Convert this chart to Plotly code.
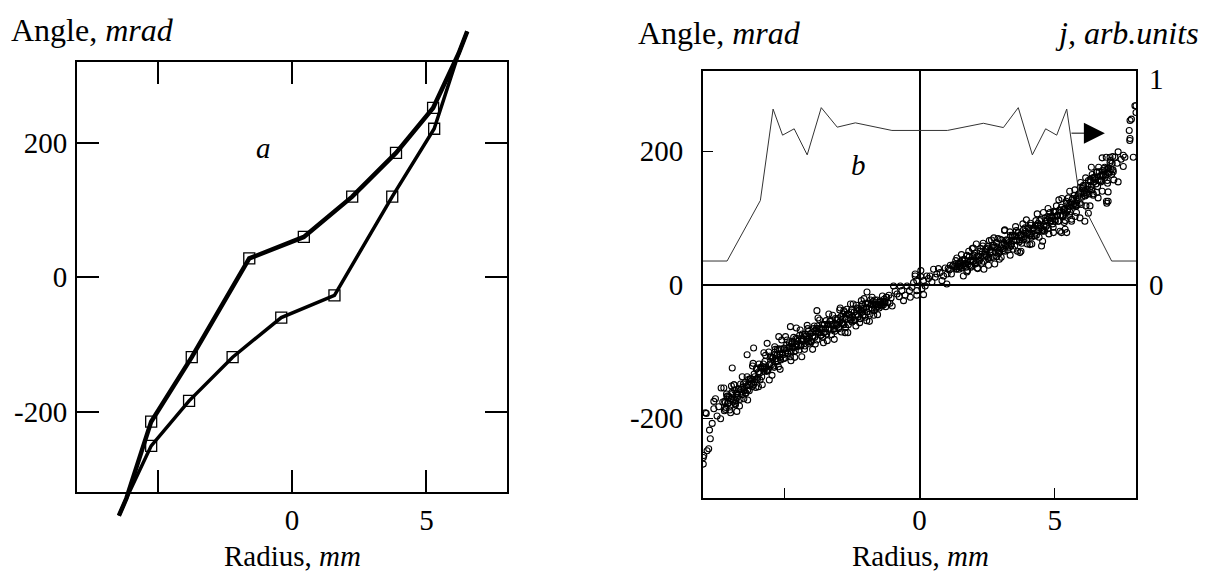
import plotly.graph_objects as go

W, H = 1206, 579

# ---------------- Panel a data ----------------
a_upper_x = [-6.44, -6.16, -5.24, -3.73, -1.59, 0.44, 2.24, 3.87, 5.25, 6.20, 6.52]
a_upper_y = [-355, -329, -215, -119, 28, 60, 120, 185, 252, 333, 366]
a_lower_x = [-6.44, -6.16, -5.24, -3.83, -2.21, -0.40, 1.58, 3.73, 5.29, 6.20, 6.52]
a_lower_y = [-355, -329, -251, -184, -119, -60, -27, 120, 221, 333, 366]

# ---------------- Panel b data ----------------
j_x = [-8.0, -7.11, -5.88, -5.41, -5.06, -4.63, -4.15, -3.63, -3.04, -2.37, -1.02,
       1.03, 2.36, 3.10, 3.65, 4.17, 4.66, 5.07, 5.44, 5.92, 7.10, 8.0]
j_y = [0.115, 0.115, 0.41, 0.855, 0.728, 0.759, 0.632, 0.862, 0.767, 0.788, 0.751,
       0.751, 0.786, 0.765, 0.862, 0.632, 0.759, 0.728, 0.855, 0.42, 0.115, 0.115]

band_left_x = [
    -7.20, -7.17, -7.13, -7.09, -7.05, -7.01, -6.97, -6.93, -6.89, -6.85,
    -6.81, -6.77, -6.73, -6.69, -6.65, -6.61, -6.57, -6.53, -6.49, -6.45,
    -6.41, -6.37, -6.33, -6.29, -6.25, -6.21, -6.17, -6.13, -6.09, -6.05,
    -6.01, -5.97, -5.93, -5.89, -5.85, -5.81, -5.77, -5.73, -5.69, -5.65,
    -5.61, -5.57, -5.53, -5.49, -5.45, -5.41, -5.37, -5.33, -5.29, -5.25,
    -5.21, -5.17, -5.13, -5.09, -5.05, -5.01, -4.97, -4.93, -4.89, -4.85,
    -4.81, -4.77, -4.73, -4.69, -4.65, -4.61, -4.57, -4.53, -4.49, -4.45,
    -4.41, -4.37, -4.33, -4.29, -4.25, -4.21, -4.17, -4.13, -4.09, -4.05,
    -4.01, -3.97, -3.93, -3.89, -3.85, -3.81, -3.77, -3.73, -3.69, -3.65,
    -3.61, -3.57, -3.53, -3.49, -3.45, -3.41, -3.37, -3.33, -3.29, -3.25,
    -3.21, -3.17, -3.13, -3.09, -3.05, -3.01, -2.97, -2.93, -2.89, -2.85,
    -2.81, -2.77, -2.73, -2.69, -2.65, -2.61, -2.57, -2.53, -2.49, -2.45,
    -2.41, -2.37, -2.33, -2.29, -2.25, -2.21, -2.17, -2.13, -2.09, -2.05,
    -2.01, -1.97, -1.93, -1.89, -1.85, -1.81, -1.77, -1.73, -1.69, -1.65,
    -1.61, -1.57, -1.53, -1.49, -1.45, -1.41, -1.37, -1.33, -1.29, -1.25,
    -1.21, -1.17, -1.13, -1.09, -1.05, -1.01]
band_left_y = [
    -175, -187, -164, -178, -167, -188, -171, -161, -176, -150,
    -178, -163, -169, -156, -182, -149, -161, -154, -171, -147,
    -162, -138, -151, -159, -141, -148, -122, -150, -138, -154,
    -125, -139, -119, -143, -125, -150, -119, -126, -106, -130,
    -129, -101, -119, -109, -136, -109, -124, -97, -114, -97,
    -123, -104, -113, -83, -105, -95, -110, -99, -83, -104,
    -87, -108, -89, -94, -79, -109, -81, -93, -85, -98,
    -68, -91, -74, -82, -97, -74, -82, -66, -88, -74,
    -86, -72, -78, -62, -89, -66, -62, -71, -53, -76,
    -66, -79, -60, -71, -54, -84, -59, -65, -54, -75,
    -46, -67, -70, -59, -61, -51, -64, -35, -71, -52,
    -58, -41, -64, -37, -72, -45, -50, -41, -56, -29,
    -41, -53, -31, -45, -36, -57, -40, -30, -46, -21,
    -49, -34, -41, -28, -55, -23, -35, -29, -46, -23,
    -35, -23, -30, -35, -26, -30, -17, -30, -25, -33,
    -19, -27, -16, -28, -20, -32]

core_left_x = [
    -7.18, -7.15, -7.11, -7.07, -7.03, -6.99, -6.95, -6.91, -6.87, -6.83,
    -6.79, -6.75, -6.71, -6.67, -6.63, -6.59, -6.55, -6.51, -6.47, -6.43,
    -6.39, -6.35, -6.31, -6.27, -6.23, -6.19, -6.15, -6.11, -6.07, -6.03,
    -5.99, -5.95, -5.91, -5.87, -5.83, -5.79, -5.75, -5.71, -5.67, -5.63,
    -5.59, -5.55, -5.51, -5.47, -5.43, -5.39, -5.35, -5.31, -5.27, -5.23,
    -5.19, -5.15, -5.11, -5.07, -5.03, -4.99, -4.95, -4.91, -4.87, -4.83,
    -4.79, -4.75, -4.71, -4.67, -4.63, -4.59, -4.55, -4.51, -4.47, -4.43,
    -4.39, -4.35, -4.31, -4.27, -4.23, -4.19, -4.15, -4.11, -4.07, -4.03,
    -3.99, -3.95, -3.91, -3.87, -3.83, -3.79, -3.75, -3.71, -3.67, -3.63,
    -3.59, -3.55, -3.51, -3.47, -3.43, -3.39, -3.35, -3.31, -3.27, -3.23,
    -3.19, -3.15, -3.11, -3.07, -3.03, -2.99, -2.95, -2.91, -2.87, -2.83,
    -2.79, -2.75, -2.71, -2.67, -2.63, -2.59, -2.55, -2.51, -2.47, -2.43,
    -2.39, -2.35, -2.31, -2.27, -2.23, -2.19, -2.15, -2.11, -2.07, -2.03,
    -1.99, -1.95, -1.91, -1.87, -1.83, -1.79, -1.75, -1.71, -1.67, -1.63,
    -1.59, -1.55, -1.51, -1.47, -1.43, -1.39, -1.35, -1.31, -1.27, -1.23]
core_left_y = [
    -177, -184, -168, -178, -169, -182, -171, -163, -173, -158,
    -174, -163, -166, -157, -172, -157, -165, -149, -159, -163,
    -152, -158, -142, -151, -141, -153, -142, -134, -143, -127,
    -142, -131, -133, -124, -138, -123, -130, -115, -124, -129,
    -127, -120, -107, -120, -110, -122, -105, -111, -106, -115,
    -96, -109, -97, -103, -111, -96, -102, -90, -103, -94,
    -93, -100, -85, -95, -86, -99, -89, -81, -91, -76,
    -92, -81, -85, -77, -92, -77, -85, -70, -80, -85,
    -85, -78, -66, -79, -69, -83, -66, -72, -67, -76,
    -59, -72, -60, -66, -74, -60, -67, -55, -68, -60,
    -59, -66, -51, -61, -53, -66, -56, -48, -58, -44,
    -60, -49, -52, -44, -60, -45, -53, -38, -48, -54,
    -53, -46, -35, -48, -38, -51, -35, -41, -36, -46,
    -28, -41, -29, -36, -44, -30, -37, -25, -39, -30,
    -30, -33, -26, -31, -25, -32, -27, -22, -27, -19]

edge_left_x = [-6.95, -6.75, -6.55, -6.35, -6.15, -5.95, -5.75, -5.55, -5.35, -5.15,
               -4.95, -4.75, -4.55, -4.35, -4.15, -3.95, -3.75, -3.55, -3.35, -3.15,
               -2.95, -2.75, -2.55, -2.35, -2.15, -1.95, -1.75, -1.55]
edge_left_y = [-152, -190, -138, -173, -118, -153, -102, -143, -93, -127,
               -78, -114, -65, -108, -61, -97, -50, -87, -44, -82,
               -38, -72, -29, -62, -24, -54, -19, -45]

band_right_x = [
    1.02, 1.06, 1.10, 1.14, 1.18, 1.22, 1.26, 1.30, 1.34,
    1.38, 1.42, 1.46, 1.50, 1.54, 1.58, 1.62, 1.66, 1.70, 1.74,
    1.78, 1.82, 1.86, 1.90, 1.94, 1.98, 2.02, 2.06, 2.10, 2.14,
    2.18, 2.22, 2.26, 2.30, 2.34, 2.38, 2.42, 2.46, 2.50, 2.54,
    2.58, 2.62, 2.66, 2.70, 2.74, 2.78, 2.82, 2.86, 2.90, 2.94,
    2.98, 3.02, 3.06, 3.10, 3.14, 3.18, 3.22, 3.26, 3.30, 3.34,
    3.38, 3.42, 3.46, 3.50, 3.54, 3.58, 3.62, 3.66, 3.70, 3.74,
    3.78, 3.82, 3.86, 3.90, 3.94, 3.98, 4.02, 4.06, 4.10, 4.14,
    4.18, 4.22, 4.26, 4.30, 4.34, 4.38, 4.42, 4.46, 4.50, 4.54,
    4.58, 4.62, 4.66, 4.70, 4.74, 4.78, 4.82, 4.86, 4.90, 4.94,
    4.98, 5.02, 5.06, 5.10, 5.14, 5.18, 5.22, 5.26, 5.30, 5.34,
    5.38, 5.42, 5.46, 5.50, 5.54, 5.58, 5.62, 5.66, 5.70, 5.74,
    5.78, 5.82, 5.86, 5.90, 5.94, 5.98, 6.02, 6.06, 6.10, 6.14,
    6.18, 6.22, 6.26, 6.30, 6.34, 6.38, 6.42, 6.46, 6.50, 6.54,
    6.58, 6.62, 6.66, 6.70, 6.74, 6.78, 6.82, 6.86, 6.90, 6.94,
    6.98, 7.02, 7.06, 7.10, 7.14, 7.18]
band_right_y = [
    16, 24, 22, 29, 16, 28, 30, 27, 36,
    24, 30, 23, 34, 28, 37, 13, 38, 32, 43,
    21, 50, 29, 26, 37, 35, 44, 31, 61, 25,
    43, 37, 54, 32, 58, 23, 49, 44, 54, 39,
    66, 40, 67, 49, 59, 31, 57, 42, 69, 51,
    68, 41, 60, 51, 81, 58, 67, 52, 63, 79,
    58, 74, 53, 72, 67, 81, 50, 78, 67, 75,
    62, 91, 68, 85, 77, 61, 84, 76, 92, 71,
    84, 85, 73, 96, 82, 92, 71, 88, 98, 83,
    108, 80, 95, 89, 102, 76, 108, 96, 103, 86,
    109, 95, 118, 104, 95, 112, 104, 129, 102, 113,
    96, 125, 110, 130, 105, 123, 98, 129, 121, 142,
    117, 119, 133, 129, 146, 120, 144, 149, 141, 160,
    138, 149, 136, 157, 147, 165, 136, 161, 157, 168,
    147, 176, 156, 154, 165, 164, 174, 161, 191, 156,
    175, 169, 186, 165, 192, 157]

core_right_x = [
    1.36, 1.40, 1.44, 1.48, 1.52, 1.56, 1.60, 1.64, 1.68, 1.72,
    1.76, 1.80, 1.84, 1.88, 1.92, 1.96, 2.00, 2.04, 2.08, 2.12,
    2.16, 2.20, 2.24, 2.28, 2.32, 2.36, 2.40, 2.44, 2.48, 2.52,
    2.56, 2.60, 2.64, 2.68, 2.72, 2.76, 2.80, 2.84, 2.88, 2.92,
    2.96, 3.00, 3.04, 3.08, 3.12, 3.16, 3.20, 3.24, 3.28, 3.32,
    3.36, 3.40, 3.44, 3.48, 3.52, 3.56, 3.60, 3.64, 3.68, 3.72,
    3.76, 3.80, 3.84, 3.88, 3.92, 3.96, 4.00, 4.04, 4.08, 4.12,
    4.16, 4.20, 4.24, 4.28, 4.32, 4.36, 4.40, 4.44, 4.48, 4.52,
    4.56, 4.60, 4.64, 4.68, 4.72, 4.76, 4.80, 4.84, 4.88, 4.92,
    4.96, 5.00, 5.04, 5.08, 5.12, 5.16, 5.20, 5.24, 5.28, 5.32,
    5.36, 5.40, 5.44, 5.48, 5.52, 5.56, 5.60, 5.64, 5.68, 5.72,
    5.76, 5.80, 5.84, 5.88, 5.92, 5.96, 6.00, 6.04, 6.08, 6.12,
    6.16, 6.20, 6.24, 6.28, 6.32, 6.36, 6.40, 6.44, 6.48, 6.52,
    6.56, 6.60, 6.64, 6.68, 6.72, 6.76, 6.80, 6.84, 6.88, 6.92,
    6.96, 7.00, 7.04, 7.08, 7.12, 7.16]
core_right_y = [
    23, 27, 32, 27, 32, 25, 37, 31, 36, 26,
    44, 31, 42, 36, 28, 42, 35, 47, 33, 42,
    43, 35, 50, 40, 49, 35, 45, 53, 42, 57,
    41, 52, 49, 56, 41, 56, 48, 63, 53, 47,
    48, 55, 67, 54, 63, 50, 67, 61, 66, 56,
    74, 61, 73, 66, 58, 73, 66, 78, 64, 73,
    74, 67, 82, 72, 80, 67, 77, 85, 74, 89,
    73, 84, 81, 89, 74, 89, 81, 96, 85, 80,
    81, 88, 100, 87, 97, 84, 101, 95, 100, 91,
    110, 97, 109, 103, 95, 111, 104, 116, 103, 112,
    114, 107, 122, 112, 122, 109, 120, 128, 118, 134,
    119, 130, 127, 136, 122, 138, 131, 147, 137, 133,
    135, 143, 156, 143, 154, 142, 160, 154, 160, 151,
    169, 157, 169, 163, 156, 171, 164, 176, 164, 173,
    174, 167, 183, 173, 182, 169]

edge_right_x = [1.55, 1.75, 1.95, 2.15, 2.35, 2.55, 2.75, 2.95, 3.15, 3.35,
                3.55, 3.75, 3.95, 4.15, 4.35, 4.55, 4.75, 4.95, 5.15, 5.35,
                5.55, 5.75, 5.95, 6.15, 6.35, 6.55, 6.75, 6.95]
edge_right_y = [45, 19, 54, 24, 62, 29, 70, 38, 82, 44,
                87, 50, 97, 61, 106, 65, 114, 78, 127, 93,
                140, 102, 153, 118, 176, 138, 190, 152]

center_x = [-0.16, 0.05, 0.15, -0.10, -0.28, -0.37, -0.10, 0.09, 0.15, -0.10,
            -0.53, -0.46, -0.65, -0.71, -0.83, -0.96, -0.90, -0.59, -0.34, 0.33,
            0.46, 0.39, 0.58, 0.52, 0.64, 0.76, 0.89, 1.01, 0.83, 0.21,
            0.27, 0.05, -0.16, -0.22, 0.70, -0.75, 0.95]
center_y = [16, 12, 6, 6, -4, -9, -9, -6, -15, -16,
            -16, -2, -9, -2, -14, -2, -10, -24, -19, 9,
            4, 13, 11, 23, 16, 18, 13, 1, 6, -2,
            13, 21, 13, 3, 24, -18, 25]

outlier_x = [-7.33, -7.54, -7.60, -7.88, -7.48, -7.35, -7.21, -6.98, -7.76, -7.73,
             -7.79, -7.85, -7.99, -7.99, -6.86, -7.11, -6.80, -7.23, -7.60, -7.91,
             -7.97, -6.13, -6.92, -6.37, -5.63, -5.20, -4.77, -3.79, -2.80, -1.94,
             -7.42, -7.27, -7.66,
             7.78, 7.75, 7.78, 7.90, 8.00, 8.00, 7.34, 7.22, 7.59, 7.53,
             7.04, 7.34, 6.97, 6.92, 6.24, 6.11, 5.93, 5.62, 5.38, 5.25,
             5.44, 5.19, 4.51, 3.71, 4.08, 6.42, 6.91, 6.97, 7.53, 7.83,
             7.77, 7.96, 1.38, 1.99, 7.30, 7.45, 7.15, 6.60, 6.75, 5.80, 6.30]
outlier_y = [-155, -171, -186, -193, -197, -201, -189, -192, -218, -231,
             -246, -249, -259, -269, -150, -167, -180, -155, -175, -192,
             -256, -95, -125, -105, -88, -78, -63, -39, -39, -11,
             -183, -176, -208,
             246, 231, 219, 191, 268, 258, 199, 191, 191, 177,
             191, 154, 125, 122, 107, 95, 100, 95, 83, 78,
             78, 80, 58, 48, 60, 134, 125, 139, 194, 248,
             216, 268, 40, 55, 182, 188, 172, 130, 140, 108, 118]

x_ticks = [-5, 0, 5]
x_ticktext = ["", "0", "5"]
y_ticks = [-200, 0, 200]
y_ticktext = ["-200", "0", "200"]
j_ticks = [0, 1]

# ---------------- geometry helpers ----------------
def xdom(left_px, right_px):
    return [left_px / W, right_px / W]

def ydom(top_px, bot_px):
    return [1 - bot_px / H, 1 - top_px / H]

A_L, A_R, A_T, A_B = 77, 507, 55, 491
B_L, B_R, B_T, B_B = 703, 1136, 64, 497
EXT_T, EXT_B = 6, 540
mpp = 640.0 / (A_B - A_T)
y5_range = [-320 - (EXT_B - A_B) * mpp, 320 + (A_T - EXT_T) * mpp]

FONT = "Liberation Serif"
FS = 29
FS_HEAD = 32

fig = go.Figure()

# panel a: lines on an extended overlay axis so their ends may pass the frame
fig.add_trace(go.Scatter(x=a_upper_x, y=a_upper_y, mode="lines",
                         line=dict(color="black", width=4.5),
                         xaxis="x", yaxis="y5", showlegend=False, hoverinfo="skip"))
fig.add_trace(go.Scatter(x=a_lower_x, y=a_lower_y, mode="lines",
                         line=dict(color="black", width=3.5),
                         xaxis="x", yaxis="y5", showlegend=False, hoverinfo="skip"))
fig.add_trace(go.Scatter(x=a_upper_x[1:-1] + a_lower_x[1:-1],
                         y=a_upper_y[1:-1] + a_lower_y[1:-1], mode="markers",
                         marker=dict(symbol="square-open", size=11, color="black",
                                     line=dict(width=1.3)),
                         cliponaxis=False, xaxis="x", yaxis="y", showlegend=False))

# panel b
sc_x = (band_left_x + core_left_x + edge_left_x + center_x +
        band_right_x + core_right_x + edge_right_x + outlier_x)
sc_y = (band_left_y + core_left_y + edge_left_y + center_y +
        band_right_y + core_right_y + edge_right_y + outlier_y)
fig.add_trace(go.Scatter(x=sc_x, y=sc_y, mode="markers",
                         marker=dict(symbol="circle-open", size=6, color="black",
                                     line=dict(width=1.1)),
                         xaxis="x2", yaxis="y2", showlegend=False))
fig.add_trace(go.Scatter(x=j_x, y=j_y, mode="lines",
                         line=dict(color="#333333", width=1),
                         xaxis="x2", yaxis="y3", showlegend=False))

tickfont = dict(family=FONT, size=FS, color="black")

fig.update_layout(
    width=W, height=H, autosize=False,
    margin=dict(l=0, r=0, t=0, b=0, pad=0),
    paper_bgcolor="white", plot_bgcolor="rgba(0,0,0,0)",
    showlegend=False,
    font=dict(family=FONT, size=FS, color="black"),
    xaxis=dict(domain=xdom(A_L, A_R), range=[-8, 8], anchor="y",
               tickvals=x_ticks, ticktext=x_ticktext, ticks="inside", ticklen=22,
               tickwidth=2, tickcolor="black", showline=True, linewidth=2,
               linecolor="black", mirror="ticks", showgrid=False, zeroline=False,
               tickfont=tickfont, ticklabelstandoff=1),
    yaxis=dict(domain=ydom(A_T, A_B), range=[-320, 320], anchor="x",
               tickvals=y_ticks, ticktext=y_ticktext, ticks="inside", ticklen=22,
               tickwidth=2, tickcolor="black", showline=True, linewidth=2,
               linecolor="black", mirror="ticks", showgrid=False, zeroline=False,
               tickfont=tickfont, ticklabelstandoff=2),
    yaxis5=dict(domain=ydom(EXT_T, EXT_B), range=y5_range, anchor="x",
                visible=False, showgrid=False, zeroline=False),
    xaxis2=dict(domain=xdom(B_L, B_R), range=[-8, 8], anchor="y2",
                tickvals=x_ticks, ticktext=x_ticktext, ticks="inside", ticklen=10,
                tickwidth=1, tickcolor="black", showline=True, linewidth=2,
                linecolor="black", mirror=True, showgrid=False, zeroline=True,
                zerolinecolor="black", zerolinewidth=2, tickfont=tickfont,
                ticklabelstandoff=-5),
    yaxis2=dict(domain=ydom(B_T, B_B), range=[-320, 320], anchor="x2",
                tickvals=y_ticks, ticktext=y_ticktext, ticks="inside", ticklen=10,
                tickwidth=1, tickcolor="black", showline=True, linewidth=2,
                linecolor="black", mirror=True, showgrid=False, zeroline=True,
                zerolinecolor="black", zerolinewidth=2, tickfont=tickfont,
                ticklabelstandoff=12),
    yaxis3=dict(overlaying="y2", side="right", anchor="x2", range=[-1.04, 1.04],
                tickvals=j_ticks, ticks="", showline=False, showgrid=False,
                zeroline=False, tickfont=tickfont, ticklabelstandoff=12),
)

ann = []
def ptxt(text, xpx, ypx, xanchor="center", size=FS):
    ann.append(dict(text=text, x=xpx / W, y=1 - ypx / H, xref="paper", yref="paper",
                    xanchor=xanchor, yanchor="middle", showarrow=False,
                    font=dict(family=FONT, size=size, color="black")))

ptxt("Angle, <i>mrad</i>", 9, 22, "left", FS_HEAD)
ptxt("Angle, <i>mrad</i>", 636, 25, "left", FS_HEAD)
ptxt("<i>j, arb.units</i>", 1201, 25, "right", FS_HEAD)
ptxt("Radius, <i>mm</i>", 292, 556)
ptxt("Radius, <i>mm</i>", 920, 556)

ann.append(dict(text="<i>a</i>", x=-1.06, y=193, xref="x", yref="y", showarrow=False,
                font=dict(family=FONT, size=FS, color="black")))
ann.append(dict(text="<i>b</i>", x=-2.25, y=180, xref="x2", yref="y2", showarrow=False,
                font=dict(family=FONT, size=FS, color="black")))
ann.append(dict(text="", x=6.85, y=227, xref="x2", yref="y2",
                ax=5.56, ay=227, axref="x2", ayref="y2", showarrow=True,
                arrowhead=2, arrowsize=4.2, arrowwidth=1, arrowcolor="black"))
fig.update_layout(annotations=ann)

fig.write_html("out.html", config={"displayModeBar": False},
               post_script="document.body.style.margin='0px';")
